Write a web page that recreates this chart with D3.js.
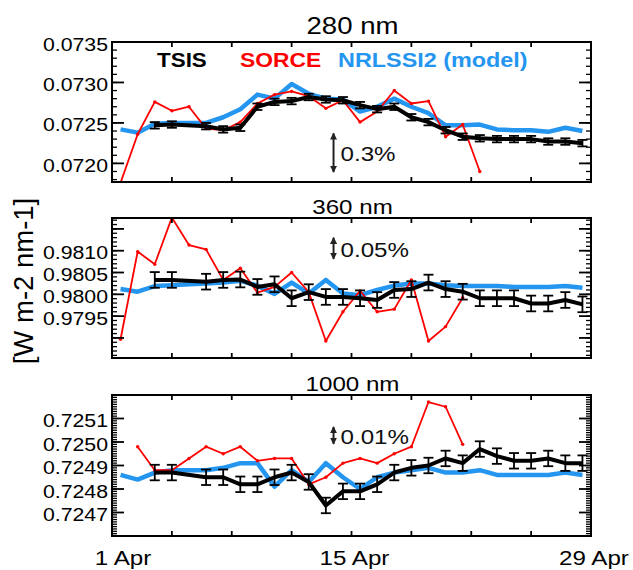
<!DOCTYPE html>
<html>
<head>
<meta charset="utf-8">
<script src="https://cdn.jsdelivr.net/npm/d3@7"></script>
<style>
  body { margin: 0; background: #fff; }
  text { font-family: "Liberation Sans", Arial, Helvetica, sans-serif; }
</style>
</head>
<body>
<svg id="chart" width="633" height="570"></svg>
<script>
// ---- data ----
var days = [1,2,3,4,5,6,7,8,9,10,11,12,13,14,15,16,17,18,19,20,21,22,23,24,25,26,27,28];
var xTickDays = [1,4.5,8,11.5,15,18.5,22,25.5,29];
var xLabelDays = [1,15,29];
var xLabels = ["1 Apr","15 Apr","29 Apr"];

// 280 nm
var tsis280 = [null,null,0.07247,0.07248,null,0.07246,0.07242,0.07244,0.07270,0.07276,0.07277,0.07282,0.07279,0.07278,
               0.07272,0.07267,0.07270,0.07257,0.07251,0.07241,0.07233,0.07231,0.07230,0.07230,0.07230,0.07227,0.07227,0.07225];
var sorce280 = [0.07176,0.07236,0.07276,0.07265,0.07270,0.07243,0.07241,0.07251,0.07274,0.07285,0.07289,0.07283,0.07268,0.07278,
                0.07251,0.07264,0.07290,0.07274,0.07277,0.07233,0.07248,0.07190,null,null,null,null,null,null];
var nrl280 = [0.07242,0.07238,0.07249,0.07250,0.07250,0.07250,0.07257,0.07267,0.07285,0.07280,0.07298,0.07286,0.07280,0.07279,
              0.07264,0.07270,0.07280,0.07270,0.07262,0.07247,0.07247,0.07248,0.07242,0.07241,0.07241,0.07239,0.07244,0.07240];
var tsisErr280 = 0.00004;
var yLabels280 = [0.0720,0.0725,0.0730,0.0735];

// 360 nm
var tsis360 = [null,null,0.98033,0.98033,null,0.98029,0.98033,0.98034,0.98017,0.98023,0.97991,0.98005,0.97994,0.97994,
               0.97991,0.97987,0.98010,0.98012,0.98027,0.98012,0.98006,0.97991,0.97991,0.97991,0.97979,0.97979,0.97987,0.97977];
var sorce360 = [0.97897,0.98098,0.98069,0.98176,0.98113,0.98103,0.98033,0.98060,0.98004,0.98017,0.98050,0.98005,0.97893,0.97960,
                0.98008,0.97960,0.97966,0.98033,0.97893,0.97926,0.97992,null,null,null,null,null,null,null];
var nrl360 = [0.98012,0.98006,0.98019,0.98021,0.98023,0.98025,0.98027,0.98031,0.98020,0.98001,0.98027,0.98002,0.98033,0.98002,
              0.97998,0.98010,0.98020,0.98025,0.98025,0.98021,0.98019,0.98019,0.98019,0.98017,0.98017,0.98017,0.98019,0.98015];
var tsisErr360 = 0.00018;
var yLabels360 = [0.9795,0.9800,0.9805,0.9810];

// 1000 nm
var tsis1000 = [null,null,0.72487,0.72487,null,0.72485,0.72485,0.72482,0.72482,0.72485,0.72487,0.72483,0.72473,0.72479,
                0.72479,0.72482,0.72487,0.72489,0.72490,0.72493,0.72491,0.72497,0.72494,0.72492,0.72492,0.72493,0.72491,0.72491];
var sorce1000 = [null,0.72498,0.72488,0.72488,0.72493,0.72498,0.72495,0.72498,0.72492,0.72493,0.72493,0.72482,0.72485,0.72491,
                 0.72493,0.72491,0.72495,0.72498,0.72517,0.72515,0.72499,null,null,null,null,null,null,null];
var nrl1000 = [0.72486,0.72484,0.72487,0.72488,0.72488,0.72488,0.72489,0.72491,0.72491,0.72481,0.72488,0.72483,0.72491,0.72485,
               0.72480,0.72485,0.72487,0.72488,0.72489,0.72487,0.72487,0.72488,0.72486,0.72486,0.72486,0.72486,0.72487,0.72486];
var tsisErr1000 = 0.000033;
var yLabels1000 = [0.7247,0.7248,0.7249,0.7250,0.7251];

var pctLabels = ["0.3%","0.05%","0.01%"];
var pctSpan = [0.00048,0.00049,0.0000725];
var pctMid = [0.072132,0.981055,0.725028];

var legendNames = ["TSIS","SORCE","NRLSSI2 (model)"];

// ---- styling ----
var SX = 1.15;               // horizontal stretch of the original lettering
var cBlack = "#000", cRed = "#ff0000", cBlue = "#2596f0";

var svg = d3.select("#chart");
svg.append("rect").attr("width", 633).attr("height", 570).attr("fill", "#fff");

var x = d3.scaleLinear().domain([1, 29]).range([112, 591]);
var XL = x(1), XR = x(29);

var panels = [
  {title: "280 nm", tsize: 24, ty: 33.5, top: 42, bottom: 182, domain: [0.07177, 0.0735],
   major: 0.0005, minor: 0.0001, labels: yLabels280,
   tsis: tsis280, sorce: sorce280, nrl: nrl280, err: tsisErr280},
  {title: "360 nm", tsize: 21, ty: 213.5, top: 218, bottom: 358, domain: [0.97854, 0.98175],
   major: 0.0005, minor: 0.0001, labels: yLabels360,
   tsis: tsis360, sorce: sorce360, nrl: nrl360, err: tsisErr360},
  {title: "1000 nm", tsize: 21, ty: 391, top: 395, bottom: 536, domain: [0.7246, 0.7252],
   major: 0.0001, minor: 0.00001, labels: yLabels1000,
   tsis: tsis1000, sorce: sorce1000, nrl: nrl1000, err: tsisErr1000}
];

function stretchText(g, tx, ty, str, size, anchor, sx) {
  return g.append("text")
    .attr("transform", "translate(" + tx + "," + ty + ") scale(" + (sx || SX) + ",1)")
    .attr("text-anchor", anchor || "start")
    .attr("font-size", size)
    .text(str);
}

function multiples(lo, hi, step) {
  var a = Math.ceil(lo / step - 1e-6), b = Math.floor(hi / step + 1e-6);
  return d3.range(a, b + 1).map(function (k) { return +(k * step).toPrecision(10); });
}

var defs = svg.append("defs");
defs.append("marker")
  .attr("id", "ahead")
  .attr("viewBox", "0 -5 10 10")
  .attr("refX", 9).attr("refY", 0)
  .attr("markerWidth", 7).attr("markerHeight", 7)
  .attr("markerUnits", "userSpaceOnUse")
  .attr("orient", "auto-start-reverse")
  .append("path")
  .attr("d", "M0,-5 L10,0 L0,5 Z")
  .attr("fill", "#222");

var fmt = d3.format(".4f");

panels.forEach(function (p, k) {
  var y = d3.scaleLinear().domain(p.domain).range([p.bottom, p.top]);
  var g = svg.append("g");

  defs.append("clipPath").attr("id", "clip" + k)
    .append("rect")
    .attr("x", XL).attr("y", p.top)
    .attr("width", XR - XL).attr("height", p.bottom - p.top);

  var plot = g.append("g").attr("clip-path", "url(#clip" + k + ")");

  function pts(arr) {
    return days.map(function (d, i) { return {day: d + 0.5, v: arr[i]}; })
      .filter(function (d) { return d.v != null; });
  }
  var line = d3.line()
    .x(function (d) { return x(d.day); })
    .y(function (d) { return y(d.v); });

  // NRLSSI2 model
  plot.append("path").datum(pts(p.nrl))
    .attr("d", line).attr("fill", "none")
    .attr("stroke", cBlue).attr("stroke-width", 4.5)
    .attr("stroke-linejoin", "round");

  // SORCE
  var s = pts(p.sorce);
  plot.append("path").datum(s)
    .attr("d", line).attr("fill", "none")
    .attr("stroke", cRed).attr("stroke-width", 1.8)
    .attr("stroke-linejoin", "round");
  plot.selectAll(".sdot").data(s).enter().append("circle")
    .attr("cx", function (d) { return x(d.day); })
    .attr("cy", function (d) { return y(d.v); })
    .attr("r", 1.7).attr("fill", cRed);

  // TSIS with error bars
  var t = pts(p.tsis);
  plot.append("path").datum(t)
    .attr("d", line).attr("fill", "none")
    .attr("stroke", cBlack).attr("stroke-width", 4)
    .attr("stroke-linejoin", "round");
  var eb = plot.selectAll(".eb").data(t).enter().append("g");
  eb.append("line")
    .attr("x1", function (d) { return x(d.day); })
    .attr("x2", function (d) { return x(d.day); })
    .attr("y1", function (d) { return y(d.v - p.err); })
    .attr("y2", function (d) { return y(d.v + p.err); })
    .attr("stroke", cBlack).attr("stroke-width", 1.8);
  [-1, 1].forEach(function (sg) {
    eb.append("line")
      .attr("x1", function (d) { return x(d.day) - 5; })
      .attr("x2", function (d) { return x(d.day) + 5; })
      .attr("y1", function (d) { return y(d.v + sg * p.err); })
      .attr("y2", function (d) { return y(d.v + sg * p.err); })
      .attr("stroke", cBlack).attr("stroke-width", 1.8);
  });

  // inward ticks on all four sides
  var majors = multiples(p.domain[0], p.domain[1], p.major);
  var minors = multiples(p.domain[0], p.domain[1], p.minor);
  var tk = g.append("g").attr("stroke", "#000");

  function yTicks(vals, len, w) {
    tk.selectAll(null).data(vals).enter().append("line")
      .attr("x1", XL).attr("x2", XL + len)
      .attr("y1", function (d) { return y(d); }).attr("y2", function (d) { return y(d); })
      .attr("stroke-width", w);
    tk.selectAll(null).data(vals).enter().append("line")
      .attr("x1", XR).attr("x2", XR - len)
      .attr("y1", function (d) { return y(d); }).attr("y2", function (d) { return y(d); })
      .attr("stroke-width", w);
  }
  yTicks(minors, 5, 1.3);
  yTicks(majors, 12, 1.8);

  [p.top, p.bottom].forEach(function (edge) {
    var dir = edge === p.top ? 1 : -1;
    tk.selectAll(null).data(xTickDays).enter().append("line")
      .attr("x1", function (d) { return x(d); }).attr("x2", function (d) { return x(d); })
      .attr("y1", edge).attr("y2", edge + dir * 5)
      .attr("stroke-width", 1.8);
  });

  // y tick labels
  g.selectAll(null).data(p.labels).enter().append("text")
    .attr("transform", function (d) { return "translate(" + (XL - 4) + "," + (y(d) + 8.5) + ") scale(" + SX + ",1)"; })
    .attr("text-anchor", "end")
    .attr("font-size", 18.5)
    .text(function (d) { return fmt(d); });

  g.append("rect")
    .attr("x", XL).attr("y", p.top)
    .attr("width", XR - XL).attr("height", p.bottom - p.top)
    .attr("fill", "none").attr("stroke", "#000").attr("stroke-width", 2);

  // title
  stretchText(g, (XL + XR) / 2 + 1, p.ty, p.title, p.tsize, "middle");

  // percentage arrow
  var ax = x(13.95);
  var ya = y(pctMid[k] - pctSpan[k] / 2), yb = y(pctMid[k] + pctSpan[k] / 2);
  g.append("line")
    .attr("x1", ax).attr("x2", ax).attr("y1", ya).attr("y2", yb)
    .attr("stroke", "#222").attr("stroke-width", 2)
    .attr("marker-start", "url(#ahead)").attr("marker-end", "url(#ahead)");
  stretchText(g, ax + 7, y(pctMid[k]) + 8.5, pctLabels[k], 21, "start").attr("fill", "#111");

  // legend in first panel
  if (k === 0) {
    var lx = [157, 240, 338], lc = [cBlack, cRed, cBlue], ls = [1.15, 1.17, 1.2];
    legendNames.forEach(function (n, i) {
      stretchText(g, lx[i], 66.5, n, 19.5, "start", ls[i])
        .attr("font-weight", "bold").attr("fill", lc[i]);
    });
  }
});

// x labels under the last panel
xLabelDays.forEach(function (d, i) {
  stretchText(svg, x(d) + (i === 0 ? 11 : 3), 565, xLabels[i], 21, "middle");
});

// y axis title
svg.append("text")
  .attr("transform", "translate(33,281) rotate(-90)")
  .attr("text-anchor", "middle")
  .attr("font-size", 27.5)
  .text("[W m-2 nm-1]");
</script>
</body>
</html>
